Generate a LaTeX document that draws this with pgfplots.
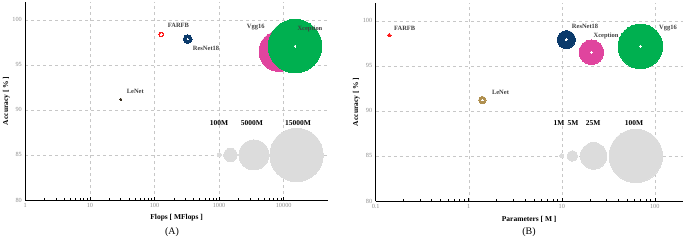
\documentclass[border=0pt]{standalone}
\usepackage{fontspec}
\setmainfont{Liberation Serif}
\usepackage{pgfplots}
\pgfplotsset{compat=1.18}
\definecolor{cgreen}{HTML}{00B050}
\definecolor{cpink}{HTML}{E0449E}
\definecolor{cnavy}{HTML}{0B3A6B}
\definecolor{cred}{HTML}{FF1A1A}
\definecolor{cgray}{HTML}{DCDCDC}
\definecolor{ctan}{HTML}{B09050}
\definecolor{cdark}{HTML}{3A3020}
\definecolor{lbl}{HTML}{404040}
\definecolor{tick}{HTML}{8C8C8C}
\tikzset{
  dl/.style={font=\fontsize{6.5}{7}\selectfont\bfseries, text=lbl, anchor=west, inner sep=0pt},
  ll/.style={font=\fontsize{7.5}{8}\selectfont\bfseries, text=black, anchor=center, inner sep=0pt},
}
\pgfplotsset{
  bub/.style args={#1/#2}{only marks, mark=*, mark size=#1, color=#2, line width=0pt,
     mark options={solid, draw=#2, fill=#2, line width=0pt}},
  common/.style={
    scale only axis, ymin=80, ymax=102, ytick={80,85,90,95,100},
    axis x line*=bottom, axis y line*=left,
    xmajorgrids, ymajorgrids,
    major grid style={dashed, black!22, line width=0.45pt},
    axis line style={black, line width=0.8pt},
    tick label style={font=\fontsize{6.3}{7}\selectfont, text=tick},
    /pgf/number format/assume math mode=true,
    ytick style={draw=none},
    xtick style={black, line width=0.5pt},
    major tick length=3bp, minor tick length=2bp,
    xlabel style={font=\fontsize{7.5}{8}\selectfont\bfseries, at={(axis description cs:0.5,-0.091)}, anchor=center},
    ylabel style={font=\fontsize{7.5}{8}\selectfont\bfseries, at={(axis description cs:-0.063,0.5)}, anchor=center},
    clip=false,
  },
}
\begin{document}
\begin{tikzpicture}
\useasboundingbox (0,0) rectangle (685bp,240bp);
% ---------------- (A) ----------------
\begin{semilogxaxis}[common, at={(25.3bp,40bp)}, anchor=south west,
  width=302.7bp, height=198.3bp, xmin=1, xmax=48500,
  xtick={1,10,100,1000,10000}, xticklabels={1,10,100,1000,10000},
  xlabel={Flops [ MFlops ]}, ylabel={Accuracy [ \% ]}]
% size legend
\addplot[bub=2bp/cgray] coordinates {(1000,85)};
\addplot[bub=6.7bp/cgray] coordinates {(1500,85)};
\addplot[bub=15bp/cgray] coordinates {(3460,85)};
\addplot[bub=26.7bp/cgray] coordinates {(15800,85)};
% models
\addplot[bub=20bp/cpink] coordinates {(8460,96.49)};
\addplot[bub=0.6bp/cpink!40] coordinates {(8460,96.49)};
\addplot[bub=26.8bp/cgreen] coordinates {(15000,97.07)};
\addplot[bub=0.9bp/white] coordinates {(15000,97.07)};
\addplot[bub=2.4bp/cred] coordinates {(127,98.37)};
\addplot[bub=0.9bp/white] coordinates {(127,98.37)};
\addplot[bub=4.4bp/cnavy] coordinates {(326,97.85)};
\addplot[bub=0.6bp/white] coordinates {(326,97.85)};
\addplot[bub=1.1bp/cdark] coordinates {(30,91.17)};
% label anchors
\coordinate (a1) at (axis cs:160,99.34);
\coordinate (a2) at (axis cs:390,96.8);
\coordinate (a3) at (axis cs:37,92.03);
\coordinate (a4) at (axis cs:2675,99.18);
\coordinate (a5) at (axis cs:16250,99.0);
\coordinate (a6) at (axis cs:998,88.55);
\coordinate (a7) at (axis cs:3230,88.55);
\coordinate (a8) at (axis cs:16650,88.55);
\end{semilogxaxis}
\node[dl] at (a1) {FARFB};
\node[dl] at (a2) {ResNet18};
\node[dl] at (a3) {LeNet};
\node[dl] at (a4) {Vgg16};
\node[dl] at (a5) {Xception};
\node[ll] at (a6) {100M};
\node[ll] at (a7) {5000M};
\node[ll] at (a8) {15000M};
\node[font=\fontsize{10}{11}\selectfont] at (172bp,8.3bp) {(A)};
% ---------------- (B) ----------------
\begin{semilogxaxis}[common, at={(375.7bp,39bp)}, anchor=south west,
  width=307bp, height=198.3bp, xmin=0.1, xmax=199.5,
  xtick={0.1,1,10,100}, xticklabels={0.1,1,10,100},
  xlabel={Parameters [ M ]}, ylabel={Accuracy [ \% ]}]
% size legend
\addplot[bub=2bp/cgray] coordinates {(10,85)};
\addplot[bub=5.3bp/cgray] coordinates {(13,85)};
\addplot[bub=13.3bp/cgray] coordinates {(22,85)};
\addplot[bub=26.7bp/cgray] coordinates {(62.5,85)};
% models
\addplot[bub=1.8bp/cred] coordinates {(0.14,98.4)};
\addplot[bub=3.7bp/ctan] coordinates {(1.4,91.2)};
\addplot[bub=0.7bp/white] coordinates {(1.4,91.2)};
\addplot[bub=9bp/cnavy] coordinates {(11.2,97.9)};
\addplot[bub=0.8bp/white] coordinates {(11.2,97.9)};
\addplot[bub=12.3bp/cpink] coordinates {(20.8,96.5)};
\addplot[bub=0.8bp/white] coordinates {(20.8,96.5)};
\addplot[bub=22.3bp/cgreen] coordinates {(70,97.15)};
\addplot[bub=0.9bp/white] coordinates {(70,97.15)};
% label anchors
\coordinate (b1) at (axis cs:0.157,99.18);
\coordinate (b2) at (axis cs:12.8,99.34);
\coordinate (b3) at (axis cs:21.9,98.3);
\coordinate (b4) at (axis cs:111,99.18);
\coordinate (b5) at (axis cs:1.77,92.1);
\coordinate (b6) at (axis cs:9.35,88.63);
\coordinate (b7) at (axis cs:13.2,88.63);
\coordinate (b8) at (axis cs:21.7,88.63);
\coordinate (b9) at (axis cs:59.8,88.63);
\end{semilogxaxis}
\node[dl] at (b1) {FARFB};
\node[dl] at (b2) {ResNet18};
\node[dl] at (b3) {Xception};
\node[dl] at (b4) {Vgg16};
\node[dl] at (b5) {LeNet};
\node[ll] at (b6) {1M};
\node[ll] at (b7) {5M};
\node[ll] at (b8) {25M};
\node[ll] at (b9) {100M};
\node[font=\fontsize{10}{11}\selectfont] at (529bp,8bp) {(B)};
\end{tikzpicture}
\end{document}
